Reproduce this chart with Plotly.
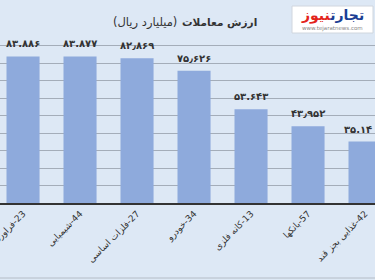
import plotly.graph_objects as go

categories = ["23-فراورده", "44-شیمیایی", "27-فلزات اساسی", "34-خودرو",
              "13-کانه فلزی", "57-بانکها", "42-غذایی بجز قند"]
values = [83.886, 83.877, 82.869, 75.626, 53.643, 43.952, 35.14]
value_labels = ["۸۳.۸۸۶", "۸۳.۸۷۷", "۸۲٫۸۶۹", "۷۵٫۶۲۶", "۵۳.۶۴۳", "۴۳٫۹۵۲", "۳۵.۱۴"]
title_bold = "ارزش معاملات"
title_unit = "(میلیارد ریال)"

RLE, PDF = "\u202b", "\u202c"
tick_text = [RLE + c + PDF for c in categories]

BG = "#dde8f5"
W, Hfig, T, B = 375, 280, 37, 77
H = Hfig - T - B
AXIS_Y = Hfig - B  # pixel row of the x axis


def py(p):
    """pixel row -> paper y"""
    return (AXIS_Y - p) / H


fig = go.Figure()
fig.add_trace(go.Bar(
    x=list(range(len(categories))), y=values,
    marker=dict(color="#8eaadc", line=dict(width=0)),
    width=0.58, hoverinfo="skip",
))

# value labels
for i, (v, lab) in enumerate(zip(values, value_labels)):
    fig.add_annotation(x=i, y=v, text=lab, showarrow=False,
                       xanchor="center", yanchor="bottom", yshift=5,
                       xshift=-7 if i == len(values) - 1 else 0,
                       font=dict(family="DejaVu Sans", size=10, color="#333333", weight="bold"))

fig.update_layout(
    width=W, height=Hfig,
    margin=dict(l=0, r=0, t=T, b=B),
    paper_bgcolor=BG, plot_bgcolor=BG,
    showlegend=False,
    xaxis=dict(
        range=[-0.404, 6.175], tickmode="array",
        tickvals=list(range(len(categories))), ticktext=tick_text,
        tickangle=-45, showgrid=False, zeroline=False,
        showline=True, linecolor="#333333", linewidth=2,
        tickfont=dict(family="DejaVu Sans", size=9, color="#333333"),
        ticklabeloverflow="allow",
        automargin=False,
    ),
    yaxis=dict(
        range=[0, 95], dtick=10, showticklabels=False,
        showgrid=True, gridcolor="#a4adb9", gridwidth=1,
        zeroline=False, automargin=False,
    ),
    font=dict(family="DejaVu Sans"),
)

# title
fig.add_annotation(x=259 / W, y=py(22), xref="paper", yref="paper",
                   text=f"<b>{RLE}{title_bold}{PDF}</b>",
                   showarrow=False, xanchor="right", yanchor="middle",
                   font=dict(family="DejaVu Sans", size=10.5, color="#333333"))
fig.add_annotation(x=179 / W, y=py(22), xref="paper", yref="paper",
                   text=RLE + title_unit + PDF,
                   showarrow=False, xanchor="right", yanchor="middle",
                   font=dict(family="DejaVu Sans", size=11.5, color="#333333"))

# logo box
fig.add_shape(type="rect", xref="paper", yref="paper",
              x0=292 / W, x1=373 / W, y0=py(33), y1=py(6),
              fillcolor="white", line=dict(color="#d0d6de", width=1), layer="above")
fig.add_annotation(x=332 / W, y=py(16), xref="paper", yref="paper",
                   text="<b><span style='color:#1c3f94'>تجارت</span><span style='color:#e3241b'>نیوز</span></b>",
                   showarrow=False, xanchor="center", yanchor="middle",
                   font=dict(family="DejaVu Sans", size=14))
fig.add_annotation(x=332 / W, y=py(28), xref="paper", yref="paper",
                   text="www.tejaratnews.com", showarrow=False,
                   xanchor="center", yanchor="middle",
                   font=dict(family="DejaVu Sans", size=5.5, color="#888888"))

# bottom border
fig.add_shape(type="line", xref="paper", yref="paper", x0=0, x1=1,
              y0=py(278), y1=py(278),
              line=dict(color="#b4bcc6", width=1))

fig.write_html("out.html")
